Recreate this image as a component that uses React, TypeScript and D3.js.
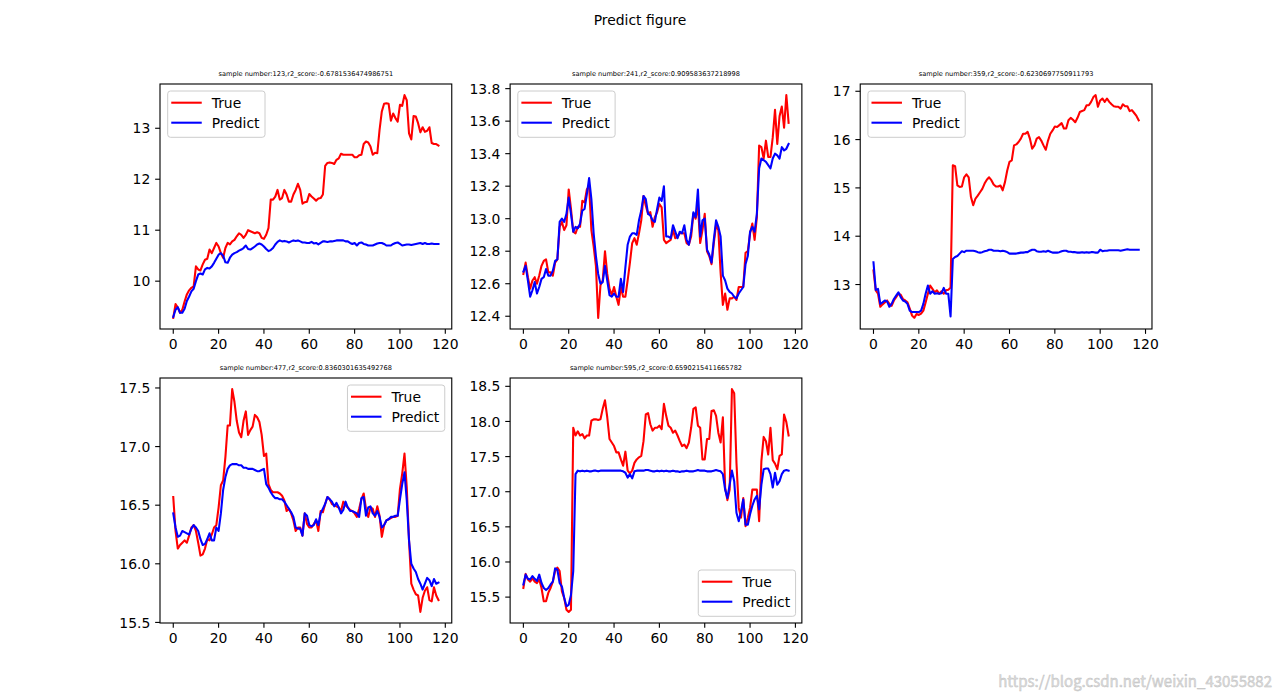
import React from 'react';
import * as d3 from 'd3';

const xTicks = [0, 20, 40, 60, 80, 100, 120];

const p1True = [9.28,9.55,9.48,9.38,9.44,9.6,9.74,9.82,9.87,9.9,10.29,10.23,10.21,10.33,10.42,10.44,10.62,10.55,10.65,10.75,10.68,10.55,10.46,10.65,10.75,10.72,10.78,10.81,10.88,10.94,10.91,10.85,10.91,11.0,10.98,10.96,10.94,10.96,10.94,10.85,10.83,10.91,11.04,11.6,11.6,11.66,11.79,11.6,11.63,11.79,11.7,11.56,11.56,11.7,11.79,11.91,11.79,11.52,11.55,11.56,11.71,11.66,11.62,11.58,11.62,11.63,11.7,12.26,12.32,12.33,12.32,12.3,12.38,12.41,12.5,12.48,12.48,12.48,12.48,12.48,12.43,12.43,12.47,12.48,12.69,12.74,12.72,12.64,12.48,12.52,12.51,12.97,13.33,13.48,13.49,13.48,13.15,13.29,13.2,13.13,13.46,13.44,13.65,13.55,12.9,12.78,13.24,13.23,13.1,12.92,13.02,12.93,12.95,13.02,12.71,12.69,12.69,12.66];
const p1Pred = [9.3,9.44,9.49,9.38,9.38,9.46,9.61,9.7,9.8,9.85,10.0,10.13,10.15,10.13,10.23,10.26,10.25,10.29,10.36,10.44,10.52,10.55,10.5,10.37,10.36,10.46,10.52,10.55,10.57,10.6,10.62,10.65,10.7,10.63,10.62,10.65,10.68,10.72,10.74,10.72,10.68,10.63,10.59,10.61,10.65,10.72,10.77,10.8,10.78,10.79,10.78,10.76,10.78,10.8,10.79,10.8,10.78,10.76,10.76,10.75,10.75,10.77,10.74,10.75,10.72,10.75,10.78,10.78,10.77,10.78,10.78,10.79,10.8,10.8,10.8,10.8,10.78,10.78,10.75,10.73,10.75,10.7,10.75,10.76,10.73,10.72,10.7,10.7,10.7,10.72,10.74,10.75,10.75,10.73,10.7,10.7,10.7,10.73,10.75,10.76,10.73,10.7,10.71,10.72,10.72,10.71,10.72,10.73,10.74,10.75,10.73,10.75,10.73,10.73,10.74,10.73,10.73,10.73];

const p2True = [12.66,12.73,12.64,12.57,12.62,12.64,12.6,12.65,12.71,12.74,12.75,12.67,12.67,12.65,12.73,12.75,12.95,12.98,12.93,12.96,13.18,13.06,12.92,12.91,12.95,12.95,13.11,13.1,13.18,13.2,12.93,12.83,12.71,12.39,12.59,12.62,12.8,12.66,12.57,12.53,12.58,12.52,12.47,12.58,12.52,12.52,12.62,12.73,12.85,12.88,12.84,12.91,12.99,13.14,13.08,13.03,13.04,12.95,13.01,13.04,13.09,13.07,12.87,12.85,12.86,12.87,12.93,12.88,12.89,12.91,12.91,12.91,12.85,12.84,12.89,13.03,13.0,13.08,12.85,12.93,13.03,12.8,12.77,12.72,12.85,12.96,12.93,12.67,12.47,12.54,12.44,12.51,12.51,12.52,12.5,12.58,12.58,12.58,12.79,12.8,12.91,12.97,12.87,13.01,13.45,13.44,13.37,13.48,13.38,13.38,13.5,13.67,13.46,13.63,13.69,13.56,13.76,13.59];
const p2Pred = [12.675,12.71,12.62,12.52,12.56,12.61,12.54,12.58,12.63,12.64,12.69,12.65,12.65,12.68,12.74,12.75,12.98,13.0,12.98,13.03,13.13,13.03,12.92,12.95,12.94,12.97,13.05,13.06,13.15,13.25,13.12,12.91,12.77,12.66,12.6,12.61,12.71,12.62,12.53,12.52,12.54,12.52,12.52,12.63,12.55,12.7,12.84,12.89,12.91,12.91,12.9,12.99,13.05,13.14,13.12,13.03,13.02,12.99,12.98,13.06,13.13,13.11,13.2,12.89,12.89,12.88,12.96,12.92,12.88,12.92,12.91,12.96,12.87,12.84,12.92,13.04,13.01,13.18,12.89,12.99,13.0,12.81,12.78,12.73,12.87,12.99,12.95,12.89,12.65,12.62,12.57,12.55,12.54,12.52,12.51,12.54,12.56,12.58,12.72,12.77,12.92,12.95,12.92,13.03,13.31,13.37,13.36,13.35,13.33,13.31,13.37,13.4,13.39,13.37,13.44,13.42,13.43,13.46];

const p3True = [13.29,12.88,12.81,12.54,12.59,12.63,12.67,12.6,12.56,12.67,12.74,12.81,12.79,12.7,12.67,12.63,12.5,12.36,12.31,12.39,12.37,12.4,12.46,12.63,12.81,12.98,12.91,12.84,12.88,12.81,12.86,12.81,12.88,12.89,12.94,15.47,15.45,15.05,15.02,15.03,15.22,15.28,15.22,14.81,14.64,14.78,14.84,14.91,14.98,15.09,15.17,15.22,15.16,15.07,15.03,15.03,15.05,14.95,15.12,15.36,15.54,15.57,15.88,15.9,15.95,16.02,16.12,16.12,16.16,16.02,15.81,15.88,16.02,16.05,15.98,15.88,15.79,15.98,16.12,16.19,16.27,16.26,16.3,16.34,16.23,16.23,16.4,16.45,16.41,16.36,16.45,16.57,16.59,16.61,16.71,16.71,16.78,16.88,16.92,16.68,16.81,16.85,16.78,16.85,16.78,16.73,16.69,16.68,16.68,16.64,16.73,16.69,16.69,16.59,16.61,16.55,16.49,16.4];
const p3Pred = [13.46,12.89,12.91,12.6,12.63,12.67,12.65,12.54,12.6,12.7,12.77,12.84,12.74,12.67,12.65,12.6,12.46,12.43,12.43,12.43,12.43,12.46,12.6,12.81,12.98,12.81,12.86,12.81,12.82,12.81,12.82,12.93,12.81,12.81,12.34,13.53,13.57,13.59,13.64,13.69,13.67,13.7,13.7,13.7,13.7,13.69,13.67,13.66,13.67,13.69,13.7,13.72,13.72,13.7,13.7,13.7,13.69,13.7,13.69,13.67,13.64,13.64,13.64,13.64,13.65,13.66,13.66,13.67,13.67,13.7,13.72,13.72,13.69,13.68,13.68,13.69,13.68,13.7,13.68,13.66,13.66,13.66,13.67,13.69,13.7,13.7,13.68,13.68,13.67,13.67,13.66,13.66,13.67,13.66,13.67,13.66,13.67,13.67,13.66,13.66,13.72,13.69,13.7,13.7,13.71,13.71,13.71,13.71,13.71,13.7,13.71,13.72,13.73,13.72,13.72,13.72,13.72,13.72];

const p4True = [16.57,16.28,16.13,16.16,16.18,16.2,16.18,16.24,16.31,16.33,16.28,16.18,16.07,16.08,16.13,16.21,16.2,16.25,16.31,16.33,16.48,16.67,16.71,16.91,17.18,17.18,17.49,17.38,17.22,17.12,17.08,17.22,17.3,17.1,17.14,17.17,17.27,17.25,17.21,17.1,16.92,16.94,16.68,16.63,16.61,16.61,16.61,16.6,16.58,16.54,16.45,16.47,16.43,16.37,16.28,16.31,16.31,16.24,16.43,16.34,16.31,16.31,16.34,16.37,16.28,16.45,16.44,16.51,16.57,16.55,16.51,16.5,16.49,16.48,16.45,16.53,16.5,16.48,16.46,16.45,16.43,16.4,16.47,16.55,16.6,16.47,16.4,16.48,16.47,16.4,16.49,16.41,16.23,16.33,16.37,16.38,16.39,16.4,16.4,16.41,16.64,16.77,16.94,16.65,16.2,15.83,15.78,15.74,15.73,15.59,15.71,15.77,15.8,15.69,15.68,15.8,15.73,15.69];
const p4Pred = [16.43,16.31,16.23,16.24,16.28,16.27,16.26,16.25,16.3,16.33,16.31,16.28,16.21,16.16,16.17,16.21,16.26,16.2,16.2,16.31,16.28,16.43,16.63,16.74,16.81,16.84,16.85,16.85,16.85,16.84,16.84,16.82,16.82,16.81,16.81,16.81,16.8,16.79,16.79,16.8,16.81,16.68,16.65,16.61,16.58,16.56,16.56,16.55,16.55,16.53,16.5,16.47,16.44,16.4,16.31,16.3,16.3,16.24,16.43,16.41,16.33,16.32,16.33,16.38,16.33,16.43,16.47,16.51,16.57,16.55,16.53,16.49,16.52,16.48,16.43,16.46,16.53,16.48,16.45,16.45,16.44,16.43,16.4,16.56,16.57,16.41,16.48,16.49,16.43,16.41,16.45,16.4,16.31,16.33,16.37,16.38,16.4,16.4,16.41,16.41,16.55,16.68,16.78,16.54,16.2,16.0,15.96,15.93,15.87,15.83,15.78,15.83,15.88,15.86,15.81,15.87,15.83,15.84];

const p5True = [15.63,15.83,15.75,15.72,15.77,15.72,15.7,15.75,15.63,15.44,15.44,15.56,15.63,15.72,15.87,15.92,15.87,15.58,15.49,15.32,15.29,15.32,17.91,17.8,17.86,17.8,17.82,17.76,17.8,17.8,18.01,18.03,18.03,18.02,18.03,18.18,18.3,18.06,17.75,17.7,17.65,17.56,17.56,17.46,17.37,17.57,17.3,17.26,17.3,17.41,17.46,17.49,17.51,17.72,18.1,18.12,17.96,17.87,17.91,17.91,17.94,17.89,18.25,18.08,17.94,17.91,17.84,17.87,17.8,17.72,17.65,17.67,17.62,17.7,17.91,18.18,18.2,17.94,17.91,17.46,17.46,17.75,17.75,18.15,18.16,18.08,17.84,17.7,18.06,17.06,16.88,17.03,18.46,18.4,17.41,16.77,16.63,16.91,16.51,16.63,16.77,17.03,17.03,17.03,16.58,17.44,17.78,17.72,17.53,17.91,17.45,17.4,17.32,17.51,17.53,18.1,17.99,17.8];
const p5Pred = [15.68,15.82,15.76,15.75,15.8,15.76,15.73,15.82,15.7,15.63,15.6,15.63,15.68,15.72,15.91,15.89,15.7,15.65,15.49,15.37,15.39,15.53,15.87,17.25,17.3,17.29,17.3,17.29,17.3,17.29,17.29,17.3,17.3,17.29,17.3,17.3,17.3,17.3,17.3,17.3,17.3,17.3,17.3,17.3,17.29,17.27,17.2,17.25,17.19,17.29,17.3,17.3,17.3,17.3,17.31,17.31,17.3,17.29,17.29,17.3,17.29,17.3,17.29,17.3,17.29,17.29,17.3,17.29,17.29,17.28,17.29,17.29,17.3,17.29,17.29,17.29,17.3,17.31,17.3,17.3,17.3,17.29,17.29,17.29,17.3,17.31,17.3,17.29,17.25,17.03,16.91,17.1,17.3,17.15,16.7,16.58,16.72,16.89,16.53,16.53,16.68,16.8,16.89,16.94,16.75,17.1,17.32,17.33,17.33,17.25,17.06,17.27,17.1,17.15,17.25,17.3,17.31,17.3];

const p1YTicks = [10, 11, 12, 13];
const p2YTicks = [12.4, 12.6, 12.8, 13.0, 13.2, 13.4, 13.6, 13.8];
const p3YTicks = [13, 14, 15, 16, 17];
const p4YTicks = [15.5, 16.0, 16.5, 17.0, 17.5];
const p5YTicks = [15.5, 16.0, 16.5, 17.0, 17.5, 18.0, 18.5];

const titles = [
  'sample number:123,r2_score:-0.6781536474986751',
  'sample number:241,r2_score:0.909583637218998',
  'sample number:359,r2_score:-0.6230697750911793',
  'sample number:477,r2_score:0.8360301635492768',
  'sample number:595,r2_score:0.6590215411665782',
];
const seriesNames = ['True', 'Predict'];
const seriesColors = ['#ff0000', '#0000ff'];

const panels = [
  { title: titles[0], t: p1True, p: p1Pred, yTicks: p1YTicks, fmt: 'd', legend: 'ul', col: 0, row: 0 },
  { title: titles[1], t: p2True, p: p2Pred, yTicks: p2YTicks, fmt: '.1f', legend: 'ul', col: 1, row: 0 },
  { title: titles[2], t: p3True, p: p3Pred, yTicks: p3YTicks, fmt: 'd', legend: 'ul', col: 2, row: 0 },
  { title: titles[3], t: p4True, p: p4Pred, yTicks: p4YTicks, fmt: '.1f', legend: 'ur', col: 0, row: 1 },
  { title: titles[4], t: p5True, p: p5Pred, yTicks: p5YTicks, fmt: '.1f', legend: 'lr', col: 1, row: 1 },
];

const FONT = 'DejaVu Sans, sans-serif';
const AX_W = 291.76;
const AX_H = 245;
const COL_STEP = 350.11;
const ROW_STEP = 294;
const LEFT0 = 160;
const TOP0 = 84;
const TICK = 4.86;

function Panel({ cfg }: { cfg: any }) {
  const x0 = LEFT0 + cfg.col * COL_STEP;
  const y0 = TOP0 + cfg.row * ROW_STEP;
  const n = cfg.t.length;
  const xm = (n - 1) * 0.05;
  const x = d3.scaleLinear().domain([-xm, n - 1 + xm]).range([x0, x0 + AX_W]);
  const all = [...cfg.t, ...cfg.p];
  const [mn, mx] = d3.extent(all) as [number, number];
  const ym = (mx - mn) * 0.05;
  const y = d3.scaleLinear().domain([mn - ym, mx + ym]).range([y0 + AX_H, y0]);
  const fmt = d3.format(cfg.fmt);
  const line = d3.line<number>().x((_, i) => x(i)).y((v) => y(v));

  const LW = 97.3;
  const LH = 46.3;
  let lx = x0 + 7.7;
  let ly = y0 + 7;
  if (cfg.legend === 'ur') { lx = x0 + AX_W - 7 - LW; }
  if (cfg.legend === 'lr') { lx = x0 + AX_W - 6.3 - LW; ly = y0 + AX_H - 6.7 - LH; }

  return (
    <g>
      <text x={x0 + AX_W / 2} y={y0 - 8.3} fontSize={6.6} textAnchor="middle" fontFamily={FONT} fill="#000">{cfg.title}</text>
      {[cfg.t, cfg.p].map((s: number[], k: number) => (
        <path key={k} d={line(s) || ''} fill="none" stroke={seriesColors[k]} strokeWidth={2.08} strokeLinejoin="round" strokeLinecap="square" />
      ))}
      <rect x={x0} y={y0} width={AX_W} height={AX_H} fill="none" stroke="#000" strokeWidth={1.11} />
      {xTicks.map((v) => (
        <g key={'x' + v}>
          <line x1={x(v)} x2={x(v)} y1={y0 + AX_H} y2={y0 + AX_H + TICK} stroke="#000" strokeWidth={1.11} />
          <text x={x(v)} y={y0 + AX_H + TICK + 4.86 + 10.4} fontSize={13.9} textAnchor="middle" fontFamily={FONT} fill="#000">{v}</text>
        </g>
      ))}
      {cfg.yTicks.map((v: number) => (
        <g key={'y' + v}>
          <line x1={x0 - TICK} x2={x0} y1={y(v)} y2={y(v)} stroke="#000" strokeWidth={1.11} />
          <text x={x0 - TICK - 4.86} y={y(v) + 5.1} fontSize={13.9} textAnchor="end" fontFamily={FONT} fill="#000">{fmt(v)}</text>
        </g>
      ))}
      <g>
        <rect x={lx} y={ly} width={LW} height={LH} rx={2.8} ry={2.8} fill="#ffffff" fillOpacity={0.8} stroke="#cccccc" strokeWidth={1} />
        {seriesNames.map((name, k) => (
          <g key={name}>
            <line x1={lx + 4.6} x2={lx + 33} y1={ly + 11.7 + k * 20} y2={ly + 11.7 + k * 20} stroke={seriesColors[k]} strokeWidth={2.08} strokeLinecap="square" />
            <text x={lx + 44} y={ly + 11.7 + k * 20 + 5} fontSize={13.9} fontFamily={FONT} fill="#000">{name}</text>
          </g>
        ))}
      </g>
    </g>
  );
}

export default function App() {
  return (
    <svg width={1280} height={700} style={{ position: 'absolute', left: 0, top: 0, background: '#fff' }}>
      <rect x={0} y={0} width={1280} height={700} fill="#fff" />
      <text x={640} y={25} fontSize={13.9} textAnchor="middle" fontFamily={FONT} fill="#000">Predict figure</text>
      {panels.map((c, i) => <Panel key={i} cfg={c} />)}
      <text x={1272} y={687} fontSize={15} textAnchor="end" fontFamily="Noto Sans CJK SC, sans-serif" fill="#dddddd" stroke="#bbbbbb" strokeWidth={0.4}>https://blog.csdn.net/weixin_43055882</text>
    </svg>
  );
}
